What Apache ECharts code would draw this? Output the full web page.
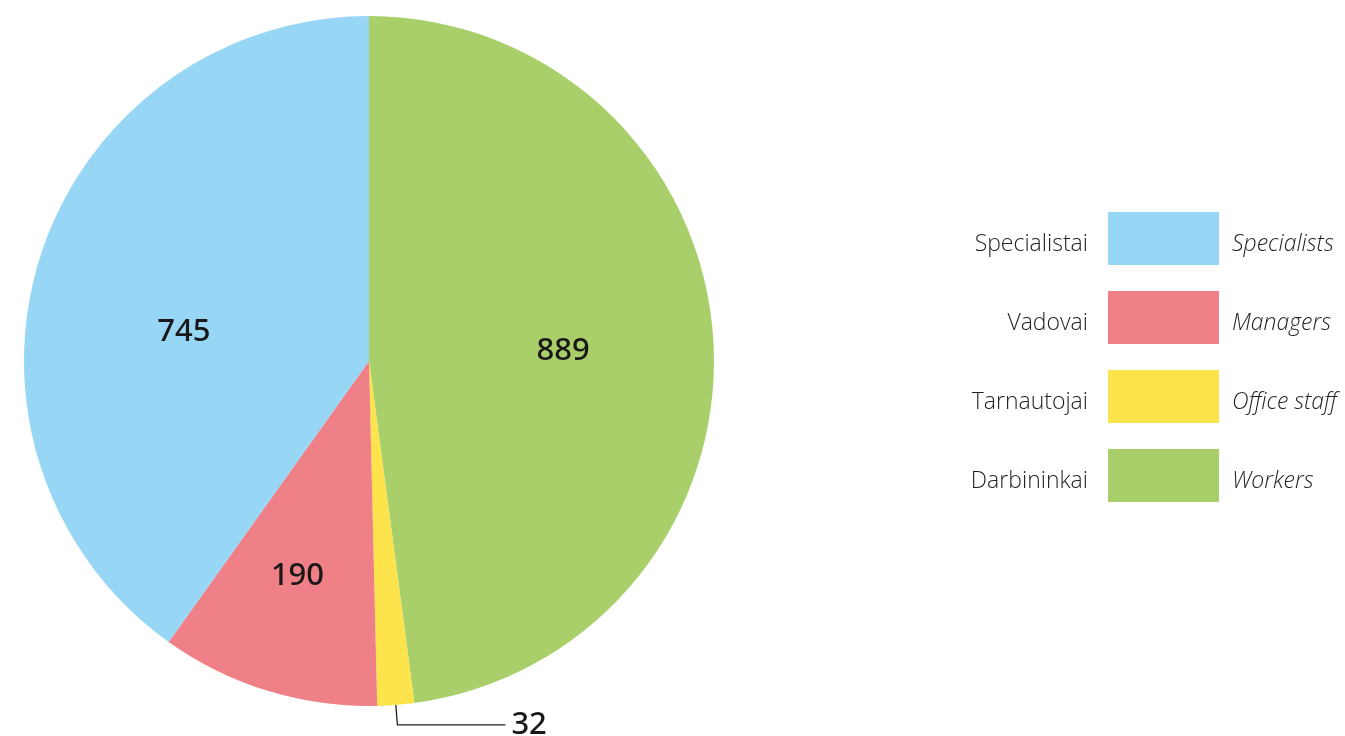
<!DOCTYPE html>
<html>
<head>
<meta charset="utf-8">
<script src="https://cdn.jsdelivr.net/npm/echarts@6/dist/echarts.min.js"></script>
<style>
html,body{margin:0;padding:0;background:#fff;}
#c{width:1345px;height:736px;}
</style>
</head>
<body>
<div id="c"></div>
<script>
// Data (pie drawn clockwise from top)
const categories = ['Workers', 'Office staff', 'Managers', 'Specialists'];
const categoriesLT = ['Darbininkai', 'Tarnautojai', 'Vadovai', 'Specialistai'];
const values = [889, 32, 190, 745];
const colors = ['#a9cf6a', '#fde34c', '#f08087', '#97d7f5'];
const legendOrder = ['Specialists', 'Managers', 'Office staff', 'Workers'];

const ltMap = {};
categories.forEach((c, i) => { ltMap[c] = categoriesLT[i]; });

const numFont = '"Noto Sans", "Open Sans", sans-serif';
const labelOffsets = {
  'Workers': [19, 2],
  'Specialists': [-18, 25],
  'Managers': [-20, 47]
};

const data = categories.map((c, i) => {
  const item = { name: c, value: values[i], itemStyle: { color: colors[i] } };
  if (c === 'Office staff') {
    item.label = { position: 'outside', show: true, distanceToLabelLine: 6 };
    item.labelLine = { show: true, length: 20, length2: 108, lineStyle: { color: '#231f20', width: 1.3 } };
  } else {
    item.label = { position: 'inside', offset: labelOffsets[c] };
    item.labelLine = { show: false };
  }
  return item;
});

const legendFont = '"Open Sans", "Noto Sans", sans-serif';

const chart = echarts.init(document.getElementById('c'), null, { renderer: 'canvas' });
chart.setOption({
  animation: false,
  backgroundColor: '#ffffff',
  legend: [
    {
      orient: 'vertical',
      left: 1108,
      top: 212,
      padding: 0,
      itemWidth: 111,
      itemHeight: 53,
      itemGap: 26,
      align: 'left',
      icon: 'rect',
      selectedMode: false,
      data: legendOrder,
      formatter: n => '{t|' + n + '}',
      textStyle: {
        fontFamily: legendFont,
        fontStyle: 'italic',
        fontWeight: 300,
        fontSize: 23,
        color: '#231f20',
        rich: {
          t: {
            fontFamily: legendFont,
            fontStyle: 'italic',
            fontWeight: 300,
            fontSize: 23,
            color: '#231f20',
            padding: [12, 0, 0, 8]
          }
        }
      }
    },
    {
      orient: 'vertical',
      right: 126,
      top: 212,
      padding: 0,
      itemWidth: 111,
      itemHeight: 53,
      itemGap: 26,
      align: 'right',
      icon: 'rect',
      selectedMode: false,
      data: legendOrder,
      formatter: n => '{t|' + ltMap[n] + '}',
      textStyle: {
        fontFamily: legendFont,
        fontWeight: 300,
        fontSize: 23,
        color: '#231f20',
        rich: {
          t: {
            fontFamily: legendFont,
            fontWeight: 300,
            fontSize: 23,
            color: '#231f20',
            padding: [12, 15, 0, 0]
          }
        }
      }
    }
  ],
  series: [{
    type: 'pie',
    center: [369, 361],
    radius: [0, 345],
    startAngle: 90,
    clockwise: true,
    avoidLabelOverlap: false,
    label: {
      show: true,
      formatter: '{c}',
      fontFamily: numFont,
      fontSize: 31,
      fontWeight: 500,
      color: '#1a1718'
    },
    itemStyle: { borderWidth: 0 },
    emphasis: { disabled: true },
    data: data
  }]
});
</script>
</body>
</html>
